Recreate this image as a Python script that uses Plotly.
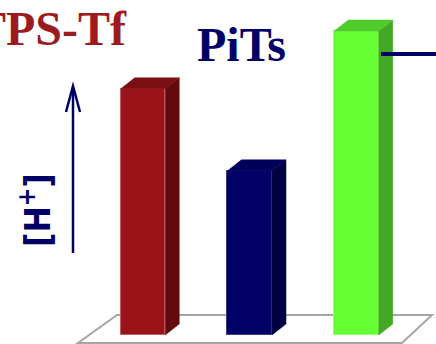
import plotly.graph_objects as go

# Relative proton concentration for each acid generator
categories = ["TPS-Tf", "PiTs", "third"]
values = [8.1, 5.4, 10.0]

front_colors = ["#9A1319", "#000066", "#66FF33"]
top_colors = ["#7C0F14", "#00005A", "#50C92B"]
side_colors = ["#630A0E", "#000042", "#43A823"]
edge_colors = ["#C06066", "#3A3A8A", "#8CFF66"]

W, H = 436, 344
# data-space layout: bar slots 0..n-1, y in concentration units
X0_PX, SLOT_PX = 143.0, 106.75
Y0_PX, UNIT_PX = 335.0, 30.4
BAR_W = 0.417
DEPTH_X = 14.0 / SLOT_PX
DEPTH_Y = 11.0 / UNIT_PX

x_range = [(0 - X0_PX) / SLOT_PX, (W - X0_PX) / SLOT_PX]
y_range = [(Y0_PX - H) / UNIT_PX, Y0_PX / UNIT_PX]


def px(xp, yp):
    """Pixel position -> paper coordinates."""
    return xp / W, 1 - yp / H


xs = list(range(len(categories)))

fig = go.Figure()

# front faces
fig.add_trace(go.Bar(
    x=xs, y=values, width=BAR_W,
    marker=dict(color=front_colors, line=dict(color=edge_colors, width=1)),
    hoverinfo="skip", showlegend=False,
))

# side and top faces give the extruded look
for x, v, tc, sc in zip(xs, values, top_colors, side_colors):
    r = x + BAR_W / 2
    l = x - BAR_W / 2
    fig.add_trace(go.Scatter(
        x=[r, r + DEPTH_X, r + DEPTH_X, r, r],
        y=[0, DEPTH_Y, v + DEPTH_Y, v, 0],
        fill="toself", fillcolor=sc, mode="lines",
        line=dict(color=sc, width=0.5),
        hoverinfo="skip", showlegend=False,
    ))
    fig.add_trace(go.Scatter(
        x=[l, r, r + DEPTH_X, l + DEPTH_X, l],
        y=[v, v, v + DEPTH_Y, v + DEPTH_Y, v],
        fill="toself", fillcolor=tc, mode="lines",
        line=dict(color=tc, width=0.5),
        hoverinfo="skip", showlegend=False,
    ))

shapes = []
# floor plane
fl = [px(117, 315), px(432, 315), px(402, 343), px(78, 343)]
path = "M " + " L ".join(f"{a},{b}" for a, b in fl) + " Z"
shapes.append(dict(type="path", xref="paper", yref="paper", path=path,
                   line=dict(color="#A6A6A6", width=2), fillcolor="white",
                   layer="below"))

# upward arrow next to the axis label
a0, a1 = px(73, 253), px(73, 87)
shapes.append(dict(type="line", xref="paper", yref="paper",
                   x0=a0[0], y0=a0[1], x1=a1[0], y1=a1[1],
                   line=dict(color="#000066", width=2.5)))
h1, h2, h3 = px(66, 112), px(73, 86), px(80, 112)
shapes.append(dict(type="path", xref="paper", yref="paper",
                   path=f"M {h1[0]},{h1[1]} L {h2[0]},{h2[1]} L {h3[0]},{h3[1]}",
                   line=dict(color="#000066", width=2.5)))

# pointer line leaving the tallest bar
p0, p1 = px(381, 54), px(436, 54)
shapes.append(dict(type="line", xref="paper", yref="paper",
                   x0=p0[0], y0=p0[1], x1=p1[0], y1=p1[1],
                   line=dict(color="#000066", width=4)))

annotations = []
tx, ty = px(129, 28)
annotations.append(dict(text="<b>TPS-Tf</b>", xref="paper", yref="paper",
                        x=tx, y=ty, xanchor="right", yanchor="middle",
                        showarrow=False,
                        font=dict(family="Liberation Serif", size=48, color="#9B1B1F")))
tx, ty = px(195, 44)
annotations.append(dict(text="<b>PiTs</b>", xref="paper", yref="paper",
                        x=tx, y=ty, xanchor="left", yanchor="middle",
                        showarrow=False,
                        font=dict(family="Liberation Serif", size=48, color="#000066")))
tx, ty = px(35, 210)
annotations.append(dict(text="<b>[H<sup>+</sup>]</b>", xref="paper", yref="paper",
                        x=tx, y=ty, xanchor="center", yanchor="middle",
                        textangle=-90, showarrow=False,
                        font=dict(family="DejaVu Sans Condensed, DejaVu Sans", size=35,
                                  color="#000066")))

fig.update_layout(
    width=W, height=H,
    margin=dict(l=0, r=0, t=0, b=0),
    paper_bgcolor="white", plot_bgcolor="white",
    xaxis=dict(range=x_range, visible=False, fixedrange=True),
    yaxis=dict(range=y_range, visible=False, fixedrange=True),
    shapes=shapes, annotations=annotations,
    bargap=0, showlegend=False,
)

fig.write_html("out.html", config={"displayModeBar": False})
